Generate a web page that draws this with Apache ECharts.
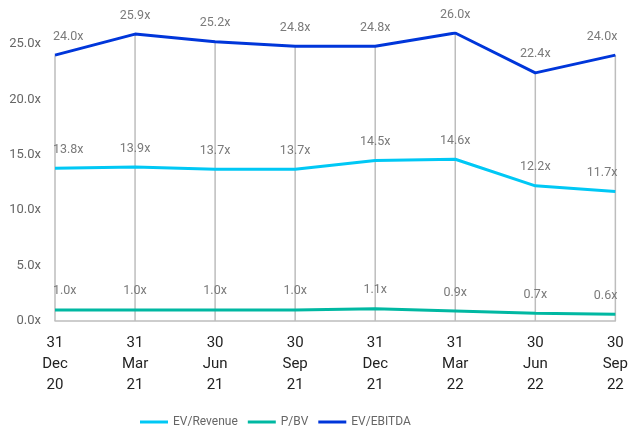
<!DOCTYPE html>
<html><head><meta charset="utf-8">
<script src="https://cdn.jsdelivr.net/npm/echarts@6/dist/echarts.min.js"></script>
<style>html,body{margin:0;padding:0;background:#fff}#c{width:631px;height:430px}</style>
</head><body><div id="c"></div>
<script>
const categories = ['31\nDec\n20','31\nMar\n21','30\nJun\n21','30\nSep\n21','31\nDec\n21','31\nMar\n22','30\nJun\n22','30\nSep\n22'];
const evRevenue = [13.8, 13.9, 13.7, 13.7, 14.5, 14.6, 12.2, 11.7];
const pbv = [1.0, 1.0, 1.0, 1.0, 1.1, 0.9, 0.7, 0.6];
const evEbitda = [24.0, 25.9, 25.2, 24.8, 24.8, 26.0, 22.4, 24.0];
const yTicks = [0, 5, 10, 15, 20, 25];

const FONT = 'Roboto';
const n = categories.length;
function withLabels(arr) {
  return arr.map((v, i) => {
    const o = { value: v };
    if (i === 0) o.label = { align: 'left', offset: [-2, 0] };
    if (i === n - 1) o.label = { align: 'right', offset: [2, 0] };
    return o;
  });
}
function lineSeries(name, arr, color) {
  return {
    name, type: 'line', data: withLabels(arr), symbol: 'circle', symbolSize: 0.1, showSymbol: true,
    smooth: false,
    lineStyle: { width: 3, color }, itemStyle: { color }, z: 3,
    label: { show: true, position: 'top', distance: 12, formatter: p => p.value.toFixed(1) + 'x',
      color: '#7a7a7a', fontSize: 12.5, fontFamily: FONT }
  };
}
const chart = echarts.init(document.getElementById('c'));
chart.setOption({
  animation: false,
  grid: { left: 55, right: 12, top: 33, bottom: 109 },
  legend: {
    bottom: -3, left: 135, itemWidth: 28, itemHeight: 3, itemGap: 10,
    icon: 'rect',
    textStyle: { color: '#666', fontSize: 12, fontFamily: FONT },
    data: ['EV/Revenue', 'P/BV', 'EV/EBITDA']
  },
  xAxis: {
    type: 'category', data: categories, boundaryGap: false,
    axisLine: { lineStyle: { color: '#bdbdbd', width: 1.5 } },
    axisTick: { show: false },
    axisLabel: { color: '#222', fontSize: 15, lineHeight: 21, margin: 12, fontFamily: FONT, interval: 0 }
  },
  yAxis: {
    type: 'value', min: 0, max: 26, interval: 5,
    axisLabel: { showMaxLabel: false, formatter: v => yTicks.includes(v) ? v.toFixed(1) + 'x' : '',
      color: '#666', fontSize: 13, margin: 14, fontFamily: FONT },
    splitLine: { show: false }, axisLine: { show: false }, axisTick: { show: false }
  },
  series: [
    { name: 'drop', type: 'bar', data: evEbitda, barWidth: 1.5, itemStyle: { color: '#bdbdbd' },
      silent: true, z: 1, legendHoverLink: false },
    lineSeries('EV/Revenue', evRevenue, '#00C8F5'),
    lineSeries('P/BV', pbv, '#00B8A2'),
    lineSeries('EV/EBITDA', evEbitda, '#0036DA')
  ]
});
</script></body></html>
